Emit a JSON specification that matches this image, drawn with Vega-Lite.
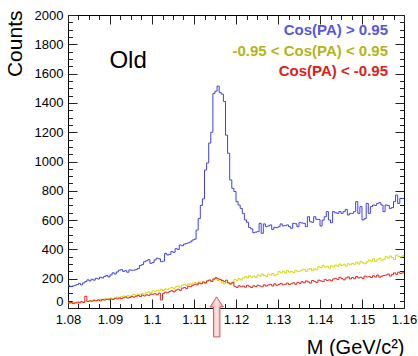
{
"$schema": "https://vega.github.io/schema/vega-lite/v6.json",
"width": 336, "height": 293,
"autosize": {"type": "none"},
"padding": {"left": 68, "top": 15, "right": 14, "bottom": 48},
"background": "white",
"datasets": {
"blue": [{"m":1.08,"n":152},{"m":1.0805,"n":146},{"m":1.081,"n":150},{"m":1.0815,"n":155},{"m":1.082,"n":160},{"m":1.0825,"n":168},{"m":1.083,"n":158},{"m":1.0835,"n":172},{"m":1.084,"n":180},{"m":1.0845,"n":192},{"m":1.085,"n":185},{"m":1.0855,"n":196},{"m":1.086,"n":190},{"m":1.0865,"n":203},{"m":1.087,"n":198},{"m":1.0875,"n":210},{"m":1.088,"n":205},{"m":1.0885,"n":215},{"m":1.089,"n":222},{"m":1.0895,"n":212},
{"m":1.09,"n":226},{"m":1.0905,"n":240},{"m":1.091,"n":232},{"m":1.0915,"n":246},{"m":1.092,"n":258},{"m":1.0925,"n":262},{"m":1.093,"n":250},{"m":1.0935,"n":255},{"m":1.094,"n":244},{"m":1.0945,"n":260},{"m":1.095,"n":258},{"m":1.0955,"n":258},{"m":1.096,"n":262},{"m":1.0965,"n":270},{"m":1.097,"n":290},{"m":1.0975,"n":296},{"m":1.098,"n":316},{"m":1.0985,"n":322},{"m":1.099,"n":330},{"m":1.0995,"n":305},
{"m":1.1,"n":310},{"m":1.1005,"n":328},{"m":1.101,"n":340},{"m":1.1015,"n":336},{"m":1.102,"n":316},{"m":1.1025,"n":320},{"m":1.103,"n":373},{"m":1.1035,"n":362},{"m":1.104,"n":366},{"m":1.1045,"n":385},{"m":1.105,"n":380},{"m":1.1055,"n":405},{"m":1.106,"n":400},{"m":1.1065,"n":430},{"m":1.107,"n":425},{"m":1.1075,"n":436},{"m":1.108,"n":441},{"m":1.1085,"n":445},{"m":1.109,"n":452},{"m":1.1095,"n":464},
{"m":1.11,"n":470},{"m":1.1105,"n":532},{"m":1.111,"n":610},{"m":1.1115,"n":700},{"m":1.112,"n":745},{"m":1.1125,"n":942},{"m":1.113,"n":990},{"m":1.1135,"n":1126},{"m":1.114,"n":1200},{"m":1.1145,"n":1465},{"m":1.115,"n":1480},{"m":1.1155,"n":1515},{"m":1.116,"n":1470},{"m":1.1165,"n":1460},{"m":1.117,"n":1410},{"m":1.1175,"n":1180},{"m":1.118,"n":1056},{"m":1.1185,"n":874},{"m":1.119,"n":817},{"m":1.1195,"n":795},
{"m":1.12,"n":726},{"m":1.1205,"n":703},{"m":1.121,"n":680},{"m":1.1215,"n":646},{"m":1.122,"n":601},{"m":1.1225,"n":585},{"m":1.123,"n":550},{"m":1.1235,"n":540},{"m":1.124,"n":514},{"m":1.1245,"n":518},{"m":1.125,"n":521},{"m":1.1255,"n":578},{"m":1.126,"n":510},{"m":1.1265,"n":574},{"m":1.127,"n":555},{"m":1.1275,"n":560},{"m":1.128,"n":567},{"m":1.1285,"n":537},{"m":1.129,"n":551},{"m":1.1295,"n":548},
{"m":1.13,"n":555},{"m":1.1305,"n":574},{"m":1.131,"n":560},{"m":1.1315,"n":562},{"m":1.132,"n":567},{"m":1.1325,"n":555},{"m":1.133,"n":544},{"m":1.1335,"n":578},{"m":1.134,"n":575},{"m":1.1345,"n":555},{"m":1.135,"n":583},{"m":1.1355,"n":580},{"m":1.136,"n":578},{"m":1.1365,"n":555},{"m":1.137,"n":623},{"m":1.1375,"n":589},{"m":1.138,"n":585},{"m":1.1385,"n":623},{"m":1.139,"n":605},{"m":1.1395,"n":605},
{"m":1.14,"n":560},{"m":1.1405,"n":600},{"m":1.141,"n":623},{"m":1.1415,"n":658},{"m":1.142,"n":601},{"m":1.1425,"n":582},{"m":1.143,"n":658},{"m":1.1435,"n":650},{"m":1.144,"n":646},{"m":1.1445,"n":658},{"m":1.145,"n":646},{"m":1.1455,"n":658},{"m":1.146,"n":673},{"m":1.1465,"n":635},{"m":1.147,"n":646},{"m":1.1475,"n":646},{"m":1.148,"n":658},{"m":1.1485,"n":726},{"m":1.149,"n":646},{"m":1.1495,"n":692},
{"m":1.15,"n":601},{"m":1.1505,"n":610},{"m":1.151,"n":714},{"m":1.1515,"n":646},{"m":1.152,"n":692},{"m":1.1525,"n":703},{"m":1.153,"n":700},{"m":1.1535,"n":714},{"m":1.154,"n":719},{"m":1.1545,"n":703},{"m":1.155,"n":658},{"m":1.1555,"n":703},{"m":1.156,"n":700},{"m":1.1565,"n":680},{"m":1.157,"n":685},{"m":1.1575,"n":726},{"m":1.158,"n":771},{"m":1.1585,"n":714},{"m":1.159,"n":748},{"m":1.1595,"n":748},{"m":1.16,"n":748}],
"yel": [{"m":1.08,"n":38},{"m":1.0805,"n":32},{"m":1.081,"n":40},{"m":1.0815,"n":36},{"m":1.082,"n":30},{"m":1.0825,"n":42},{"m":1.083,"n":45},{"m":1.0835,"n":40},{"m":1.084,"n":48},{"m":1.0845,"n":44},{"m":1.085,"n":52},{"m":1.0855,"n":50},{"m":1.086,"n":56},{"m":1.0865,"n":48},{"m":1.087,"n":55},{"m":1.0875,"n":60},{"m":1.088,"n":54},{"m":1.0885,"n":62},{"m":1.089,"n":58},{"m":1.0895,"n":65},
{"m":1.09,"n":67},{"m":1.0905,"n":62},{"m":1.091,"n":70},{"m":1.0915,"n":75},{"m":1.092,"n":68},{"m":1.0925,"n":78},{"m":1.093,"n":82},{"m":1.0935,"n":76},{"m":1.094,"n":85},{"m":1.0945,"n":80},{"m":1.095,"n":88},{"m":1.0955,"n":92},{"m":1.096,"n":86},{"m":1.0965,"n":95},{"m":1.097,"n":90},{"m":1.0975,"n":100},{"m":1.098,"n":96},{"m":1.0985,"n":105},{"m":1.099,"n":110},{"m":1.0995,"n":102},
{"m":1.1,"n":118},{"m":1.1005,"n":112},{"m":1.101,"n":122},{"m":1.1015,"n":116},{"m":1.102,"n":128},{"m":1.1025,"n":120},{"m":1.103,"n":130},{"m":1.1035,"n":125},{"m":1.104,"n":135},{"m":1.1045,"n":140},{"m":1.105,"n":132},{"m":1.1055,"n":145},{"m":1.106,"n":150},{"m":1.1065,"n":142},{"m":1.107,"n":155},{"m":1.1075,"n":160},{"m":1.108,"n":152},{"m":1.1085,"n":165},{"m":1.109,"n":162},{"m":1.1095,"n":170},
{"m":1.11,"n":173},{"m":1.1105,"n":168},{"m":1.111,"n":178},{"m":1.1115,"n":168},{"m":1.112,"n":172},{"m":1.1125,"n":166},{"m":1.113,"n":185},{"m":1.1135,"n":192},{"m":1.114,"n":180},{"m":1.1145,"n":195},{"m":1.115,"n":200},{"m":1.1155,"n":188},{"m":1.116,"n":192},{"m":1.1165,"n":172},{"m":1.117,"n":165},{"m":1.1175,"n":175},{"m":1.118,"n":168},{"m":1.1185,"n":160},{"m":1.119,"n":172},{"m":1.1195,"n":195},
{"m":1.12,"n":188},{"m":1.1205,"n":200},{"m":1.121,"n":192},{"m":1.1215,"n":205},{"m":1.122,"n":214},{"m":1.1225,"n":205},{"m":1.123,"n":220},{"m":1.1235,"n":210},{"m":1.124,"n":218},{"m":1.1245,"n":208},{"m":1.125,"n":225},{"m":1.1255,"n":218},{"m":1.126,"n":232},{"m":1.1265,"n":222},{"m":1.127,"n":215},{"m":1.1275,"n":230},{"m":1.128,"n":225},{"m":1.1285,"n":235},{"m":1.129,"n":220},{"m":1.1295,"n":228},
{"m":1.13,"n":248},{"m":1.1305,"n":240},{"m":1.131,"n":252},{"m":1.1315,"n":238},{"m":1.132,"n":255},{"m":1.1325,"n":245},{"m":1.133,"n":250},{"m":1.1335,"n":242},{"m":1.134,"n":258},{"m":1.1345,"n":248},{"m":1.135,"n":252},{"m":1.1355,"n":259},{"m":1.136,"n":265},{"m":1.1365,"n":250},{"m":1.137,"n":262},{"m":1.1375,"n":270},{"m":1.138,"n":255},{"m":1.1385,"n":268},{"m":1.139,"n":260},{"m":1.1395,"n":282},
{"m":1.14,"n":275},{"m":1.1405,"n":290},{"m":1.141,"n":278},{"m":1.1415,"n":285},{"m":1.142,"n":272},{"m":1.1425,"n":288},{"m":1.143,"n":280},{"m":1.1435,"n":293},{"m":1.144,"n":285},{"m":1.1445,"n":300},{"m":1.145,"n":290},{"m":1.1455,"n":298},{"m":1.146,"n":286},{"m":1.1465,"n":302},{"m":1.147,"n":295},{"m":1.1475,"n":305},{"m":1.148,"n":298},{"m":1.1485,"n":312},{"m":1.149,"n":300},{"m":1.1495,"n":318},
{"m":1.15,"n":308},{"m":1.1505,"n":302},{"m":1.151,"n":315},{"m":1.1515,"n":328},{"m":1.152,"n":320},{"m":1.1525,"n":335},{"m":1.153,"n":318},{"m":1.1535,"n":330},{"m":1.154,"n":340},{"m":1.1545,"n":325},{"m":1.155,"n":332},{"m":1.1555,"n":350},{"m":1.156,"n":340},{"m":1.1565,"n":355},{"m":1.157,"n":345},{"m":1.1575,"n":330},{"m":1.158,"n":360},{"m":1.1585,"n":352},{"m":1.159,"n":348},{"m":1.1595,"n":355},{"m":1.16,"n":355}],
"red": [{"m":1.08,"n":34},{"m":1.0805,"n":38},{"m":1.081,"n":30},{"m":1.0815,"n":35},{"m":1.082,"n":40},{"m":1.0825,"n":36},{"m":1.083,"n":42},{"m":1.0835,"n":38},{"m":1.084,"n":80},{"m":1.0845,"n":45},{"m":1.085,"n":48},{"m":1.0855,"n":46},{"m":1.086,"n":52},{"m":1.0865,"n":50},{"m":1.087,"n":55},{"m":1.0875,"n":48},{"m":1.088,"n":58},{"m":1.0885,"n":54},{"m":1.089,"n":60},{"m":1.0895,"n":56},
{"m":1.09,"n":61},{"m":1.0905,"n":58},{"m":1.091,"n":65},{"m":1.0915,"n":62},{"m":1.092,"n":68},{"m":1.0925,"n":64},{"m":1.093,"n":70},{"m":1.0935,"n":75},{"m":1.094,"n":68},{"m":1.0945,"n":72},{"m":1.095,"n":78},{"m":1.0955,"n":74},{"m":1.096,"n":80},{"m":1.0965,"n":85},{"m":1.097,"n":78},{"m":1.0975,"n":88},{"m":1.098,"n":82},{"m":1.0985,"n":90},{"m":1.099,"n":86},{"m":1.0995,"n":94},
{"m":1.1,"n":94},{"m":1.1005,"n":98},{"m":1.101,"n":90},{"m":1.1015,"n":102},{"m":1.102,"n":55},{"m":1.1025,"n":100},{"m":1.103,"n":108},{"m":1.1035,"n":104},{"m":1.104,"n":112},{"m":1.1045,"n":118},{"m":1.105,"n":110},{"m":1.1055,"n":122},{"m":1.106,"n":128},{"m":1.1065,"n":120},{"m":1.107,"n":135},{"m":1.1075,"n":140},{"m":1.108,"n":132},{"m":1.1085,"n":148},{"m":1.109,"n":145},{"m":1.1095,"n":155},
{"m":1.11,"n":162},{"m":1.1105,"n":158},{"m":1.111,"n":170},{"m":1.1115,"n":165},{"m":1.112,"n":178},{"m":1.1125,"n":172},{"m":1.113,"n":185},{"m":1.1135,"n":190},{"m":1.114,"n":182},{"m":1.1145,"n":198},{"m":1.115,"n":207},{"m":1.1155,"n":200},{"m":1.116,"n":195},{"m":1.1165,"n":188},{"m":1.117,"n":180},{"m":1.1175,"n":190},{"m":1.118,"n":172},{"m":1.1185,"n":165},{"m":1.119,"n":175},{"m":1.1195,"n":148},
{"m":1.12,"n":140},{"m":1.1205,"n":152},{"m":1.121,"n":145},{"m":1.1215,"n":150},{"m":1.122,"n":142},{"m":1.1225,"n":155},{"m":1.123,"n":148},{"m":1.1235,"n":140},{"m":1.124,"n":152},{"m":1.1245,"n":146},{"m":1.125,"n":155},{"m":1.1255,"n":150},{"m":1.126,"n":145},{"m":1.1265,"n":158},{"m":1.127,"n":150},{"m":1.1275,"n":157},{"m":1.128,"n":162},{"m":1.1285,"n":150},{"m":1.129,"n":165},{"m":1.1295,"n":155},
{"m":1.13,"n":160},{"m":1.1305,"n":168},{"m":1.131,"n":158},{"m":1.1315,"n":162},{"m":1.132,"n":170},{"m":1.1325,"n":160},{"m":1.133,"n":166},{"m":1.1335,"n":172},{"m":1.134,"n":162},{"m":1.1345,"n":175},{"m":1.135,"n":168},{"m":1.1355,"n":180},{"m":1.136,"n":172},{"m":1.1365,"n":185},{"m":1.137,"n":178},{"m":1.1375,"n":170},{"m":1.138,"n":188},{"m":1.1385,"n":182},{"m":1.139,"n":175},{"m":1.1395,"n":190},
{"m":1.14,"n":185},{"m":1.1405,"n":180},{"m":1.141,"n":195},{"m":1.1415,"n":188},{"m":1.142,"n":192},{"m":1.1425,"n":185},{"m":1.143,"n":198},{"m":1.1435,"n":203},{"m":1.144,"n":195},{"m":1.1445,"n":210},{"m":1.145,"n":200},{"m":1.1455,"n":192},{"m":1.146,"n":205},{"m":1.1465,"n":212},{"m":1.147,"n":198},{"m":1.1475,"n":208},{"m":1.148,"n":200},{"m":1.1485,"n":215},{"m":1.149,"n":205},{"m":1.1495,"n":210},
{"m":1.15,"n":202},{"m":1.1505,"n":218},{"m":1.151,"n":212},{"m":1.1515,"n":214},{"m":1.152,"n":208},{"m":1.1525,"n":220},{"m":1.153,"n":212},{"m":1.1535,"n":225},{"m":1.154,"n":210},{"m":1.1545,"n":218},{"m":1.155,"n":222},{"m":1.1555,"n":225},{"m":1.156,"n":232},{"m":1.1565,"n":218},{"m":1.157,"n":228},{"m":1.1575,"n":240},{"m":1.158,"n":230},{"m":1.1585,"n":245},{"m":1.159,"n":235},{"m":1.1595,"n":240},{"m":1.16,"n":240}]
},
"config": {
  "view": {"stroke": "#000", "strokeWidth": 1},
  "axis": {"domain": false, "grid": false, "labelFont": "Liberation Sans", "labelFontSize": 13, "labelColor": "#000", "tickColor": "#222", "tickWidth": 1, "titleFont": "Liberation Sans", "titleFontWeight": "normal", "titleColor": "#000", "labelFlush": false, "labelOverlap": false},
  "text": {"font": "Liberation Sans"}
},
"resolve": {"axis": {"x": "independent", "y": "independent"}},
"layer": [
  {"data": {"name": "blue"},
   "mark": {"type": "line", "interpolate": "step-after", "strokeWidth": 1, "color": "#4040e0"},
   "encoding": {
     "x": {"field": "m", "type": "quantitative", "scale": {"domain": [1.08, 1.16], "nice": false, "zero": false},
           "axis": {"orient": "bottom", "values": [1.08,1.09,1.1,1.11,1.12,1.13,1.14,1.15,1.16], "format": "~g", "ticks": false, "labelPadding": 5, "title": "M (GeV/c²)", "titleFontSize": 20, "titleAnchor": "end", "titleAlign": "right", "titleBaseline": "alphabetic", "titleX": 336, "titleY": 45}},
     "y": {"field": "n", "type": "quantitative", "scale": {"domain": [0, 2000], "nice": false},
           "axis": {"orient": "left", "values": [0,200,400,600,800,1000,1200,1400,1600,1800,2000], "format": "d", "ticks": false, "labelPadding": 5, "labelBaseline": {"condition": {"test": "datum.value == 0", "value": "bottom"}, "value": "middle"}, "title": "Counts", "titleFontSize": 21, "titleAnchor": "end", "titleAlign": "right", "titleAngle": -90, "titleBaseline": "middle", "titleX": -53, "titleY": -5}}
   }},
  {"data": {"name": "yel"},
   "mark": {"type": "line", "interpolate": "step-after", "strokeWidth": 1, "color": "#d6d600"},
   "encoding": {
     "x": {"field": "m", "type": "quantitative", "scale": {"domain": [1.08, 1.16], "nice": false, "zero": false},
           "axis": {"orient": "bottom", "values": [1.08,1.09,1.1,1.11,1.12,1.13,1.14,1.15,1.16], "labels": false, "tickSize": -9, "title": null}},
     "y": {"field": "n", "type": "quantitative", "scale": {"domain": [0, 2000], "nice": false},
           "axis": {"orient": "left", "values": [0,200,400,600,800,1000,1200,1400,1600,1800,2000], "labels": false, "tickSize": -9, "title": null}}
   }},
  {"data": {"name": "red"},
   "mark": {"type": "line", "interpolate": "step-after", "strokeWidth": 1, "color": "#e02424"},
   "encoding": {
     "x": {"field": "m", "type": "quantitative", "scale": {"domain": [1.08, 1.16], "nice": false, "zero": false},
           "axis": {"orient": "bottom", "values": [1.0825,1.085,1.0875,1.0925,1.095,1.0975,1.1025,1.105,1.1075,1.1125,1.115,1.1175,1.1225,1.125,1.1275,1.1325,1.135,1.1375,1.1425,1.145,1.1475,1.1525,1.155,1.1575], "labels": false, "tickSize": -4.5, "title": null}},
     "y": {"field": "n", "type": "quantitative", "scale": {"domain": [0, 2000], "nice": false},
           "axis": {"orient": "left", "values": [50,100,150,250,300,350,450,500,550,650,700,750,850,900,950,1050,1100,1150,1250,1300,1350,1450,1500,1550,1650,1700,1750,1850,1900,1950], "labels": false, "tickSize": -4.5, "title": null}}
   }},
  {"data": {"values": [{}]},
   "mark": {"type": "text", "align": "right", "baseline": "middle", "fontSize": 15, "fontWeight": "bold", "color": "#5656e6"},
   "encoding": {
     "x": {"datum": 1.1562, "type": "quantitative", "scale": {"domain": [1.08, 1.16], "nice": false, "zero": false},
           "axis": {"orient": "top", "values": [1.08,1.09,1.1,1.11,1.12,1.13,1.14,1.15,1.16], "labels": false, "tickSize": -9, "title": null}},
     "y": {"datum": 1898, "type": "quantitative", "scale": {"domain": [0, 2000], "nice": false},
           "axis": {"orient": "right", "values": [0,200,400,600,800,1000,1200,1400,1600,1800,2000], "labels": false, "tickSize": -9, "title": null}},
     "text": {"value": "Cos(PA) > 0.95"}
   }},
  {"data": {"values": [{}]},
   "mark": {"type": "text", "align": "right", "baseline": "middle", "fontSize": 15, "fontWeight": "bold", "color": "#b4b41c"},
   "encoding": {
     "x": {"datum": 1.1562, "type": "quantitative", "scale": {"domain": [1.08, 1.16], "nice": false, "zero": false},
           "axis": {"orient": "top", "values": [1.0825,1.085,1.0875,1.0925,1.095,1.0975,1.1025,1.105,1.1075,1.1125,1.115,1.1175,1.1225,1.125,1.1275,1.1325,1.135,1.1375,1.1425,1.145,1.1475,1.1525,1.155,1.1575], "labels": false, "tickSize": -4.5, "title": null}},
     "y": {"datum": 1756, "type": "quantitative", "scale": {"domain": [0, 2000], "nice": false},
           "axis": {"orient": "right", "values": [50,100,150,250,300,350,450,500,550,650,700,750,850,900,950,1050,1100,1150,1250,1300,1350,1450,1500,1550,1650,1700,1750,1850,1900,1950], "labels": false, "tickSize": -4.5, "title": null}},
     "text": {"value": "-0.95 < Cos(PA) < 0.95"}
   }},
  {"data": {"values": [{}]},
   "mark": {"type": "text", "align": "right", "baseline": "middle", "fontSize": 15, "fontWeight": "bold", "color": "#dc2020"},
   "encoding": {
     "x": {"datum": 1.1562, "type": "quantitative", "scale": {"domain": [1.08, 1.16], "nice": false, "zero": false}, "axis": null},
     "y": {"datum": 1618, "type": "quantitative", "scale": {"domain": [0, 2000], "nice": false}, "axis": null},
     "text": {"value": "Cos(PA) < -0.95"}
   }},
  {"data": {"values": [{}]},
   "mark": {"type": "text", "align": "center", "baseline": "middle", "fontSize": 24, "color": "#000"},
   "encoding": {
     "x": {"datum": 1.0943, "type": "quantitative", "scale": {"domain": [1.08, 1.16], "nice": false, "zero": false}, "axis": null},
     "y": {"datum": 1686, "type": "quantitative", "scale": {"domain": [0, 2000], "nice": false}, "axis": null},
     "text": {"value": "Old"}
   }},
  {"data": {"values": [{}]},
   "mark": {"type": "point", "shape": "M0,-1L0.33,-0.5L0.16,-0.5L0.16,1L-0.16,1L-0.16,-0.5L-0.33,-0.5Z", "size": 1600, "filled": true, "opacity": 1,
            "fill": {"gradient": "linear", "x1": 0, "x2": 1, "y1": 0, "y2": 0, "stops": [{"offset": 0, "color": "#ec9a9a"}, {"offset": 0.5, "color": "#fde2e2"}, {"offset": 1, "color": "#ec9a9a"}]},
            "stroke": "#cf5c5c", "strokeWidth": 1},
   "encoding": {
     "x": {"datum": 1.1154, "type": "quantitative", "scale": {"domain": [1.08, 1.16], "nice": false, "zero": false}, "axis": null},
     "y": {"datum": -61, "type": "quantitative", "scale": {"domain": [0, 2000], "nice": false}, "axis": null}
   }}
]
}
